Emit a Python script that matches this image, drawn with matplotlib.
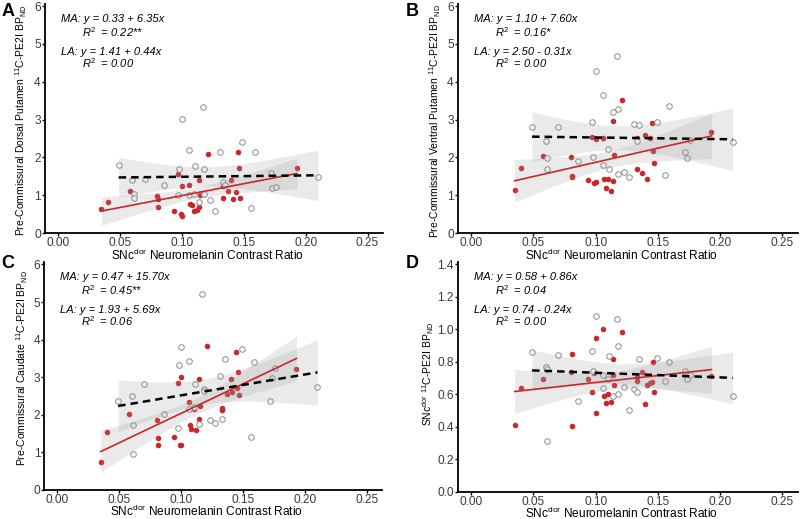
#!/usr/bin/env python3
import numpy as np
import matplotlib
matplotlib.use("Agg")
import matplotlib.pyplot as plt

# SNc-dor neuromelanin contrast ratio, mildly affected (MA) and less affected (LA) sides
x_ma = [0.035, 0.040, 0.058, 0.080, 0.081, 0.081, 0.094, 0.097, 0.099, 0.100,
        0.100, 0.106, 0.107, 0.108, 0.110, 0.112, 0.114, 0.114, 0.115, 0.121,
        0.133, 0.133, 0.137, 0.140, 0.141, 0.144, 0.145, 0.146, 0.147, 0.193]
x_la = [0.049, 0.060, 0.061, 0.061, 0.070, 0.086, 0.097, 0.098, 0.100, 0.106,
        0.106, 0.110, 0.111, 0.114, 0.117, 0.118, 0.118, 0.123, 0.127, 0.131,
        0.133, 0.135, 0.149, 0.156, 0.159, 0.172, 0.173, 0.176, 0.210]

# 11C-PE2I BPnd values
dorsal_ma = [0.64, 0.82, 1.11, 0.98, 0.91, 0.70, 0.58, 1.55, 0.49, 0.46,
             1.25, 1.27, 0.76, 0.74, 0.59, 0.60, 1.41, 0.69, 1.01, 2.08,
             1.23, 0.92, 1.10, 1.40, 0.90, 1.09, 2.14, 1.71, 0.92, 1.71]
dorsal_la = [1.81, 1.41, 1.03, 0.92, 1.43, 1.27, 1.00, 1.69, 3.02, 2.19,
             1.00, 1.02, 1.76, 0.81, 3.33, 1.69, 1.04, 0.88, 0.59, 2.14,
             1.36, 1.28, 2.41, 0.65, 2.14, 1.58, 1.18, 1.21, 1.47]

ventral_ma = [1.14, 1.72, 2.03, 2.01, 1.52, 1.48, 1.41, 2.54, 1.31, 1.35,
              2.48, 2.52, 1.44, 1.19, 1.44, 1.11, 1.38, 2.97, 2.05, 3.51,
              1.68, 2.52, 1.60, 2.60, 1.44, 2.51, 2.91, 2.17, 1.86, 2.67]
ventral_la = [2.79, 2.43, 1.99, 1.68, 2.79, 1.91, 2.94, 2.01, 4.29, 1.80,
              3.65, 2.23, 1.70, 3.19, 4.68, 3.27, 1.56, 1.62, 1.47, 2.88,
              2.44, 2.85, 2.93, 1.54, 3.37, 2.15, 1.98, 2.47, 2.41]

caudate_ma = [0.74, 1.54, 2.03, 1.85, 1.38, 1.19, 1.40, 2.84, 1.20, 1.19,
              3.01, 2.35, 1.74, 1.63, 2.16, 1.60, 2.94, 1.90, 2.23, 3.82,
              2.19, 2.13, 2.56, 2.94, 2.61, 3.68, 2.70, 3.15, 2.53, 3.21]
caudate_la = [2.37, 2.50, 1.72, 0.97, 2.81, 2.01, 1.66, 3.32, 3.79, 3.43,
              2.15, 2.20, 2.83, 1.76, 5.20, 2.68, 2.64, 1.85, 1.78, 3.02,
              1.90, 3.49, 3.74, 1.40, 3.40, 2.37, 2.97, 3.25, 2.73]

snc_ma = [0.409, 0.637, 0.694, 0.737, 0.846, 0.403, 0.694, 0.614, 0.733, 0.487,
          0.946, 1.002, 0.589, 0.544, 0.602, 0.552, 0.815, 0.717, 0.657, 0.981,
          0.680, 0.708, 0.737, 0.542, 0.657, 0.671, 0.677, 0.797, 0.614, 0.712]
snc_la = [0.862, 0.770, 0.754, 0.310, 0.844, 0.558, 0.868, 0.743, 1.080, 0.637,
          0.717, 0.694, 0.836, 0.589, 1.063, 0.899, 0.600, 0.647, 0.503, 0.632,
          0.612, 0.815, 0.821, 0.682, 0.799, 0.741, 0.696, 0.720, 0.591]

panel_letters = ["A", "B", "C", "D"]
ylabels = [r"Pre-Commissural Dorsal Putamen $^{\mathregular{11}}$C-PE2I BP$_{\mathregular{ND}}$",
           r"Pre-Commissural Ventral Putamen $^{\mathregular{11}}$C-PE2I BP$_{\mathregular{ND}}$",
           r"Pre-Commissural Caudate $^{\mathregular{11}}$C-PE2I BP$_{\mathregular{ND}}$",
           r"SNc$^{\mathregular{dor}}$ $^{\mathregular{11}}$C-PE2I BP$_{\mathregular{ND}}$"]
eq_texts = [["MA: y = 0.33 + 6.35x", "R$^2$  = 0.22**", "LA: y = 1.41 + 0.44x", "R$^2$  = 0.00"],
            ["MA: y = 1.10 + 7.60x", "R$^2$  = 0.16*", "LA: y = 2.50 - 0.31x", "R$^2$  = 0.00"],
            ["MA: y = 0.47 + 15.70x", "R$^2$  = 0.45**", "LA: y = 1.93 + 5.69x", "R$^2$  = 0.06"],
            ["MA: y = 0.58 + 0.86x", "R$^2$  = 0.04", "LA: y = 0.74 - 0.24x", "R$^2$  = 0.00"]]
xlabel = r"SNc$^{\mathregular{dor}}$ Neuromelanin Contrast Ratio"

RED = "#c8282c"
GREY = "#8a8a8a"
T_CRIT = 2.05


def fit_band(ax, x, y, color, ls, lw):
    x = np.asarray(x)
    y = np.asarray(y)
    n = len(x)
    b, a = np.polyfit(x, y, 1)
    xs = np.linspace(x.min(), x.max(), 100)
    yhat = a + b * xs
    resid = y - (a + b * x)
    s = np.sqrt(np.sum(resid ** 2) / (n - 2))
    sxx = np.sum((x - x.mean()) ** 2)
    se = s * np.sqrt(1.0 / n + (xs - x.mean()) ** 2 / sxx)
    ax.fill_between(xs, yhat - T_CRIT * se, yhat + T_CRIT * se,
                    color="#999999", alpha=0.2, linewidth=0, zorder=3)
    ax.plot(xs, yhat, color=color, linestyle=ls, linewidth=lw, zorder=4)


def draw_panel(fig, rect, ma, la, idx, ylim, yticks, yfmt, ylab_pos, xlab_y):
    ax = fig.add_axes(rect)
    ax.scatter(x_ma, ma, s=16, color=RED, linewidths=0, zorder=2)
    ax.scatter(x_la, la, s=16, facecolors="white", edgecolors=GREY,
               linewidths=0.7, zorder=2)
    fit_band(ax, x_ma, ma, RED, "-", 1.2)
    fit_band(ax, x_la, la, "black", (0, (3, 2)), 1.8)

    ax.set_xlim(-0.0105, 0.2625)
    ax.set_ylim(*ylim)
    ax.set_xticks(np.arange(0, 0.26, 0.05))
    ax.set_xticklabels(["%.2f" % t for t in np.arange(0, 0.26, 0.05)])
    ax.set_yticks(yticks)
    ax.set_yticklabels([yfmt % t for t in yticks])
    for side in ["top", "right"]:
        ax.spines[side].set_visible(False)
    for side in ["left", "bottom"]:
        ax.spines[side].set_linewidth(1.3)
    ax.tick_params(length=2, width=1.0, colors="black", labelcolor="#3a3a3a",
                   labelsize=8.6, pad=1)
    ax.set_xlabel(xlabel, fontsize=8.6, va="center")
    ax.xaxis.set_label_coords(0.48, xlab_y)
    ax.set_ylabel(ylabels[idx], fontsize=7.5, va="center")
    ax.yaxis.set_label_coords(*ylab_pos)

    t = eq_texts[idx]
    for (xx, yy), s in zip([(0.046, 0.934), (0.108, 0.879), (0.046, 0.792), (0.108, 0.741)], t):
        ax.text(xx, yy, s, transform=ax.transAxes, fontsize=8, fontstyle="italic",
                va="center", ha="left")
    return ax


def main():
    plt.rcParams["font.family"] = ["Liberation Sans", "DejaVu Sans"]
    plt.rcParams["mathtext.default"] = "it"
    plt.rcParams["mathtext.fontset"] = "custom"
    plt.rcParams["mathtext.rm"] = "Liberation Sans"
    plt.rcParams["mathtext.it"] = "Liberation Sans:italic"

    fig = plt.figure(figsize=(8, 5.19), dpi=100)
    rects = [[0.05625, 0.551, 0.4225, 0.441],
             [0.5725, 0.551, 0.425, 0.441],
             [0.0556, 0.0559, 0.4225, 0.439],
             [0.5725, 0.0526, 0.425, 0.4426]]
    six = [0, 1, 2, 3, 4, 5, 6]
    draw_panel(fig, rects[0], dorsal_ma, dorsal_la, 0, (0, 6.05), six, "%d",
               (-0.069, 0.49), -0.099)
    draw_panel(fig, rects[1], ventral_ma, ventral_la, 1, (0, 6.05), six, "%d",
               (-0.066, 0.49), -0.099)
    draw_panel(fig, rects[2], caudate_ma, caudate_la, 2, (0, 6.06), six, "%d",
               (-0.067, 0.535), -0.093)
    draw_panel(fig, rects[3], snc_ma, snc_la, 3, (0, 1.414),
               [0.0, 0.2, 0.4, 0.6, 0.8, 1.0, 1.2, 1.4], "%.1f",
               (-0.088, 0.514), -0.093)

    for (px, py), letter in zip([(8, 11), (412, 11), (8, 264), (412, 264)], panel_letters):
        fig.text(px / 800, 1 - py / 519, letter, fontsize=13, fontweight="bold",
                 ha="center", va="center")

    fig.savefig("out.png", dpi=100)


if __name__ == "__main__":
    main()
